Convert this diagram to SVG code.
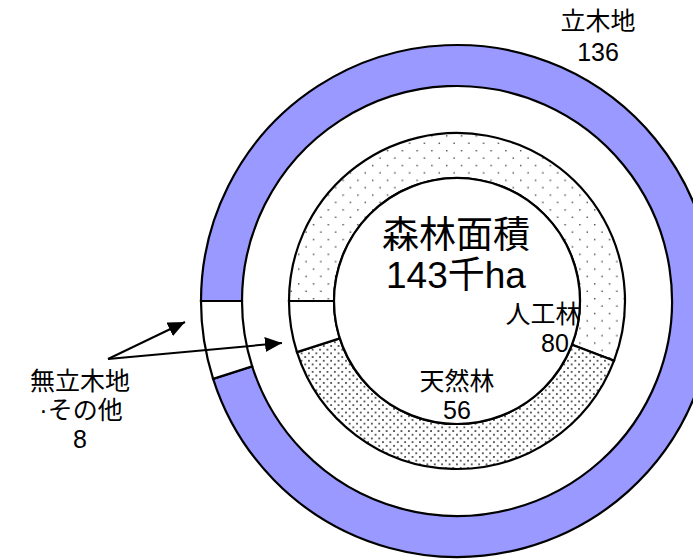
<svg xmlns="http://www.w3.org/2000/svg" width="693" height="560" viewBox="0 0 693 560">
<style>
.seg{stroke:#000;stroke-width:2.2;stroke-linejoin:miter}
.lbl{font-family:"Liberation Sans","Noto Sans CJK JP",sans-serif;font-size:25px;fill:#000;text-anchor:middle}
.ttl{font-family:"Liberation Sans","Noto Sans CJK JP",sans-serif;font-size:37px;fill:#000;text-anchor:middle}
.arr{stroke:#000;stroke-width:2;fill:none;marker-end:url(#ah)}
</style>
<defs>
<pattern id="sparse" width="14.8" height="14.8" patternUnits="userSpaceOnUse">
<rect width="14.8" height="14.8" fill="#fff"/>
<rect x="2" y="2" width="1.4" height="1.4" fill="#444"/>
<rect x="9.4" y="9.4" width="1.4" height="1.4" fill="#444"/>
</pattern>
<pattern id="dense" width="7.4" height="7.4" patternUnits="userSpaceOnUse">
<rect width="7.4" height="7.4" fill="#fff"/>
<rect x="1" y="1" width="1.7" height="1.7" fill="#3a3a3a"/>
<rect x="4.7" y="4.7" width="1.7" height="1.7" fill="#3a3a3a"/>
</pattern>
<marker id="ah" markerUnits="userSpaceOnUse" markerWidth="17" markerHeight="15" refX="17" refY="7.5" orient="auto">
<path d="M0,0 L17,7.5 L0,15 Z" fill="#000"/>
</marker>
</defs>
<rect width="693" height="560" fill="#fff"/>
<g id="ring-standing">
<path class="seg" fill="#9999FF" d="M201,301 A256,256 0 1 1 213.12,378.83 L252.18,366.37 A215,215 0 1 0 242,301 Z"/>
</g>
<g id="ring-nonstanding">
<path class="seg" fill="#fff" d="M201,301 A256,256 0 0 0 213.12,378.83 L252.18,366.37 A215,215 0 0 1 242,301 Z"/>
</g>
<g id="planted">
<path class="seg" fill="url(#sparse)" d="M289,301 A168,168 0 1 1 614.05,360.66 L571.98,344.68 A123,123 0 1 0 334,301 Z"/>
</g>
<g id="natural">
<path class="seg" fill="url(#dense)" d="M614.05,360.66 A168,168 0 0 1 296.95,352.08 L339.82,338.40 A123,123 0 0 0 571.98,344.68 Z"/>
</g>
<g id="inner-other">
<path class="seg" fill="#fff" d="M296.95,352.08 A168,168 0 0 1 289,301 L334,301 A123,123 0 0 0 339.82,338.40 Z"/>
</g>
<g id="center">
<circle class="seg" cx="457" cy="301" r="123" fill="#fff"/>
<text class="ttl" x="456" y="248">森林面積</text>
<text class="ttl" x="456" y="288">143千ha</text>
</g>
<g id="label-standing">
<text class="lbl" x="598" y="30">立木地</text>
<text class="lbl" x="598" y="61">136</text>
</g>
<g id="label-planted">
<text class="lbl" x="543" y="323">人工林</text>
<text class="lbl" x="555" y="352">80</text>
</g>
<g id="label-natural">
<text class="lbl" x="457" y="390">天然林</text>
<text class="lbl" x="457" y="419">56</text>
</g>
<g id="label-other">
<text class="lbl" x="80" y="390">無立木地</text>
<text class="lbl" x="81" y="419">·その他</text>
<text class="lbl" x="80" y="448">8</text>
</g>
<g id="connectors">
<line class="arr" x1="108" y1="359" x2="185" y2="322"/>
<line class="arr" x1="108" y1="359" x2="282" y2="343"/>
</g>
</svg>
